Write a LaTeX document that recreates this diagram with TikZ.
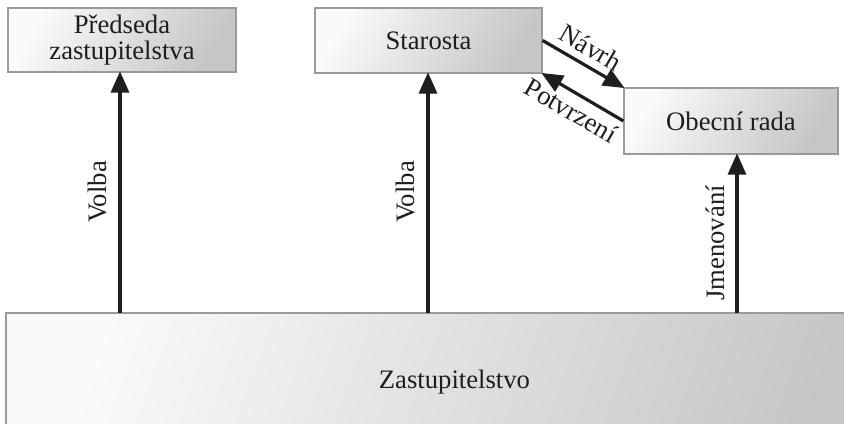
\documentclass[tikz,border=0pt]{standalone}
\usepackage{fontspec}
\setmainfont{Liberation Serif}
\usetikzlibrary{arrows.meta}
\definecolor{boxlight}{HTML}{FAFAFA}
\definecolor{boxdark}{HTML}{C6C6C6}
\definecolor{boxline}{HTML}{9A9A9A}
\definecolor{ink}{HTML}{1E1E1E}
\tikzset{
  box/.style={draw=boxline, line width=0.9pt, top color=boxlight, bottom color=boxdark, shading angle=60,
    inner sep=0pt, align=center, text=ink, font=\fontsize{20}{19.5}\selectfont},
  arr/.style={draw=ink, line width=2.4pt, -{Triangle[length=16pt,width=13.5pt]}, shorten >=-1pt},
  lbl/.style={text=ink, font=\fontsize{20}{20}\selectfont, inner sep=0pt}
}
\begin{document}
\begin{tikzpicture}[x=0.75pt,y=-0.75pt]
\useasboundingbox (0,0) rectangle (844,424);
\begin{scope}
\clip (0,0) rectangle (844,424);
\node[box, minimum width=672.75pt, minimum height=103.5pt, shading angle=70] (z) at (454.5,382) {Zastupitelstvo};
\end{scope}
\node[box, minimum width=171pt, minimum height=48pt] (p) at (122,40) {Předseda\\zastupitelstva};
\node[box, minimum width=170.25pt, minimum height=48.75pt] (s) at (428.5,40.5) {Starosta};
\node[box, minimum width=160.5pt, minimum height=49.5pt] (o) at (731,121) {Obecní rada};

\coordinate (za) at (120,313);
\coordinate (zb) at (428,313);
\coordinate (zc) at (737,313);
\draw[arr] (za) -- (za |- p.south);
\draw[arr] (zb) -- (zb |- s.south);
\draw[arr] (zc) -- (zc |- o.south);
\draw[arr] (s.east) -- (o.north west);
\draw[arr] (o.west) -- (s.south east);

\node[lbl, rotate=90] (l1) at (97,192) {Volba};
\node[lbl, rotate=90] (l2) at (405,192) {Volba};
\node[lbl, rotate=90] (l3) at (715,243) {Jmenování};
\node[lbl, rotate=-30] (l4) at (590.5,47.5) {Návrh};
\node[lbl, rotate=-30] (l5) at (571,110.5) {Potvrzení};
\end{tikzpicture}
\end{document}
